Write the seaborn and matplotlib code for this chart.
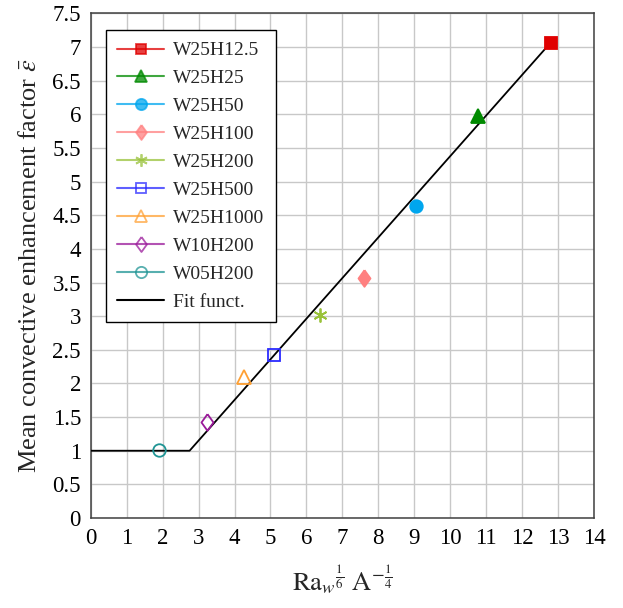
import matplotlib
matplotlib.use("Agg")
import matplotlib.pyplot as plt
from matplotlib.lines import Line2D
import seaborn as sns
import pandas as pd

# Measured cases
cases = ["W25H12.5", "W25H25", "W25H50", "W25H100", "W25H200",
         "W25H500", "W25H1000", "W10H200", "W05H200"]
ra_param = [12.79, 10.76, 9.06, 7.59, 6.38, 5.09, 4.25, 3.23, 1.91]
enhancement = [7.06, 5.97, 4.63, 3.57, 3.01, 2.42, 2.10, 1.43, 1.01]
colors = ["#e00000", "#008a00", "#00a6ee", "#ff8080", "#99c23a",
          "#2a2aff", "#ffa033", "#9a1a9a", "#1f9494"]

# pgfplots-style diamond (slightly taller than wide)
diamond = [(0, 1), (0.72, 0), (0, -1), (-0.72, 0), (0, 1)]
markers = ["s", "^", "o", diamond, (6, 2, 0), "s", "^", diamond, "o"]
sizes = [8.5, 9.5, 9, 12, 10, 8.5, 9.5, 12, 9]
filled = [True, True, True, True, True, False, False, False, False]

# Piecewise fit function breakpoints
fit_x = [0.0, 2.75, 12.8]
fit_y = [1.0, 1.0, 7.07]

sns.set_theme(style="whitegrid")
plt.rcParams["font.family"] = ["Liberation Serif", "DejaVu Serif"]
plt.rcParams["mathtext.fontset"] = "stix"

fig = plt.figure(figsize=(6.23, 6.08), dpi=100)
ax = fig.add_axes([0.1456, 0.148, 0.808, 0.83])

fit_df = pd.DataFrame({"x": fit_x, "y": fit_y})
sns.lineplot(data=fit_df, x="x", y="y", ax=ax, color="black", lw=1.3,
             sort=False, estimator=None, zorder=3)

handles = []
for name, xv, yv, c, m, s, f in zip(cases, ra_param, enhancement, colors,
                                    markers, sizes, filled):
    face = c if f else "none"
    ax.plot([xv], [yv], marker=m, ms=s, mfc=face, mec=c, mew=1.3,
            linestyle="none", zorder=4)
    handles.append(Line2D([0], [0], color=c, lw=1.5, alpha=0.75, marker=m,
                          ms=s * 0.9, mfc=face, mec=c, mew=1.3,
                          label=name))
handles.append(Line2D([0], [0], color="black", lw=1.5, label="Fit funct."))

ax.set_xlim(0, 14)
ax.set_ylim(0, 7.5)
ax.set_xticks(range(0, 15))
ax.set_yticks([i * 0.5 for i in range(16)])
ax.set_yticklabels(["0", "0.5", "1", "1.5", "2", "2.5", "3", "3.5", "4",
                    "4.5", "5", "5.5", "6", "6.5", "7", "7.5"])
ax.tick_params(labelsize=16.5, length=0, pad=7, colors="black")
ax.grid(True, color="#c8c8c8", lw=1.0)
for sp in ax.spines.values():
    sp.set_color("#404040")
    sp.set_linewidth(1.1)

ax.set_xlabel(r"$\mathrm{Ra}_w{}^{\frac{1}{6}}\ \mathrm{A}^{-\frac{1}{4}}$",
              fontsize=19, labelpad=10)
ax.set_ylabel(r"Mean convective enhancement factor $\bar{\varepsilon}$",
              fontsize=19, labelpad=8)

leg = ax.legend(handles=handles, loc="upper left",
                bbox_to_anchor=(0.030, 0.967), borderaxespad=0,
                fontsize=14, frameon=True,
                fancybox=False, edgecolor="black", framealpha=1,
                handlelength=2.4, labelspacing=0.53, borderpad=0.6,
                handletextpad=0.45)
leg.get_frame().set_linewidth(1.0)

fig.savefig("out.png", dpi=100)
